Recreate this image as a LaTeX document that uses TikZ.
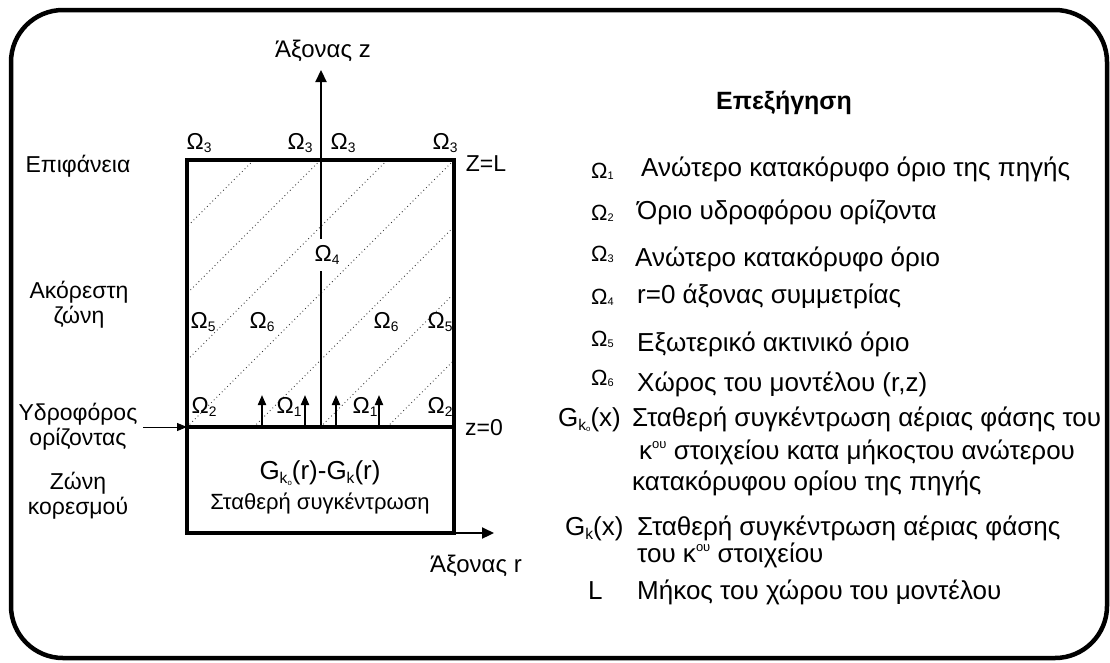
\documentclass[tikz,border=0pt]{standalone}
\usepackage{fontspec}
\usepackage{graphicx}
\setmainfont{Liberation Sans}
\usetikzlibrary{arrows.meta}
\newcommand\sbs[1]{\raisebox{-0.3ex}{\scalebox{0.6}{#1}}}
\newcommand\lsb[1]{\raisebox{-0.15ex}{\scalebox{0.5}{#1}}}
\newcommand\sps[1]{\raisebox{0.75ex}{\scalebox{0.5}{#1}}}
\begin{document}
\begin{tikzpicture}[x=1pt,y=-1pt,
  box/.style={line width=4},
  ax/.style={line width=2.2},
  hatch/.style={line width=1, dash pattern=on 0.8pt off 3pt, black!80},
  lbl/.style={font=\fontsize{23}{25}\selectfont, align=center, inner sep=0},
  om/.style={font=\fontsize{23}{25}\selectfont, inner sep=0},
  leg/.style={font=\fontsize{26}{28}\selectfont, anchor=base west, inner sep=0},
  legom/.style={font=\fontsize{22}{24}\selectfont, anchor=base west, inner sep=0},
  uparrow/.style={line width=2, -{Triangle[length=10,width=8]}},
]
\useasboundingbox (0,0) rectangle (1110,662);
% outer frame
\draw[line width=4.5, rounded corners=52] (11,10) rectangle (1107,658);

% box corners
\coordinate (TL) at (187,160);
\coordinate (TR) at (454,160);
\coordinate (ML) at (187,427);
\coordinate (MR) at (454,427);
\coordinate (BL) at (187,533);
\coordinate (BR) at (454,533);
\coordinate (Z0) at (321,427);
\coordinate (ZT) at (321,70);
\coordinate (RT) at (494,533);

% hatching
\begin{scope}
\clip (TL) rectangle (MR);
\foreach \k in {-4,...,4} \draw[hatch] ({187+\k*66.75},427) -- ++(300,-300);
\end{scope}

% boxes
\draw[box] (TL) rectangle (MR);
\draw[box] (ML) rectangle (BR);

% Omega labels in box
\node[om] (o3a) at (199,143) {Ω\sbs{3}};
\node[om] (o3b) at (300,143) {Ω\sbs{3}};
\node[om] (o3c) at (343,143) {Ω\sbs{3}};
\node[om] (o3d) at (445,143) {Ω\sbs{3}};
\node[om, inner ysep=6] (o4) at (327,255) {Ω\sbs{4}};
\node[om] (o5a) at (203,322) {Ω\sbs{5}};
\node[om] (o6a) at (262,322) {Ω\sbs{6}};
\node[om] (o6b) at (386,322) {Ω\sbs{6}};
\node[om] (o5b) at (440,322) {Ω\sbs{5}};
\node[om] (o2a) at (204,407) {Ω\sbs{2}};
\node[om] (o1a) at (289,407) {Ω\sbs{1}};
\node[om] (o1b) at (365,407) {Ω\sbs{1}};
\node[om] (o2b) at (440,407) {Ω\sbs{2}};

% axes
\draw[ax] (Z0) -- (Z0 |- o4.south);
\draw[ax, -{Triangle[length=12,width=11]}] (Z0 |- o4.north) -- (ZT);
\draw[ax, -{Triangle[length=12,width=11]}] (BR) -- (RT);

% source arrows
\foreach \x [count=\i] in {262,305,336,379} {
  \coordinate (ab\i) at (\x,427);
  \coordinate (at\i) at (\x,395);
  \draw[uparrow] (ab\i) -- (at\i);
}

% axis labels
\node[lbl, font=\fontsize{24}{26}\selectfont] (zlab) at (323,51) {Άξονας z};
\node[lbl, font=\fontsize{24}{26}\selectfont] (rlab) at (476,566) {Άξονας r};
\node[lbl] (ZL) at (486,164) {Z=L};
\node[lbl] (z0) at (484,428) {z=0};

% left labels
\node[lbl] (epi) at (78,166) {Επιφάνεια};
\node[lbl] (ako) at (79,305) {Ακόρεστη\\ζώνη};
\node[lbl] (hyd) at (78,427) {Υδροφόρος\\ορίζοντας};
\node[lbl] (kor) at (78,496) {Ζώνη\\κορεσμού};
\draw[line width=1, -{Triangle[length=10,width=8]}] (143,427) -- (ML);

% lower box text
\node[font=\fontsize{26}{28}\selectfont, inner sep=0] (gk) at (320,473) {G\sbs{k\lsb{o}}(r)-G\sbs{k}(r)};
\node[font=\fontsize{22}{24}\selectfont, inner sep=0] (sc) at (320,503) {Σταθερή συγκέντρωση};

% legend
\node[font=\fontsize{25}{28}\selectfont\bfseries, inner sep=0] (title) at (784,103) {Επεξήγηση};

\node[legom] (l1) at (591,178) {Ω\lsb{1}};
\node[leg] (t1) at (641,176) {Ανώτερο κατακόρυφο όριο της πηγής};
\node[legom] (l2) at (591,220) {Ω\lsb{2}};
\node[leg] (t2) at (637,219) {Όριο υδροφόρου ορίζοντα};
\node[legom] (l3) at (591,261) {Ω\lsb{3}};
\node[leg] (t3) at (635,266) {Ανώτερο κατακόρυφο όριο};
\node[legom] (l4) at (591,304) {Ω\lsb{4}};
\node[leg] (t4) at (637,303) {r=0 άξονας συμμετρίας};
\node[legom] (l5) at (591,346) {Ω\lsb{5}};
\node[leg] (t5) at (637,351) {Εξωτερικό ακτινικό όριο};
\node[legom] (l6) at (591,385) {Ω\lsb{6}};
\node[leg] (t6) at (637,391) {Χώρος του μοντέλου (r,z)};
\node[leg] (g0) at (558,426) {G\sbs{k\lsb{o}}(x)};
\node[leg] (g1) at (632,426) {Σταθερή συγκέντρωση αέριας φάσης του};
\node[leg] (g2) at (639,459) {κ\sps{ου} στοιχείου κατα μήκοςτου ανώτερου};
\node[leg] (g3) at (632,490) {κατακόρυφου ορίου της πηγής};
\node[leg] (k0) at (565,535) {G\sbs{k}(x)};
\node[leg] (k1) at (637,535) {Σταθερή συγκέντρωση αέριας φάσης};
\node[leg] (k2) at (637,562) {του κ\sps{ου} στοιχείου};
\node[leg] (L0) at (588,599) {L};
\node[leg] (L1) at (637,599) {Μήκος του χώρου του μοντέλου};
\end{tikzpicture}
\end{document}
